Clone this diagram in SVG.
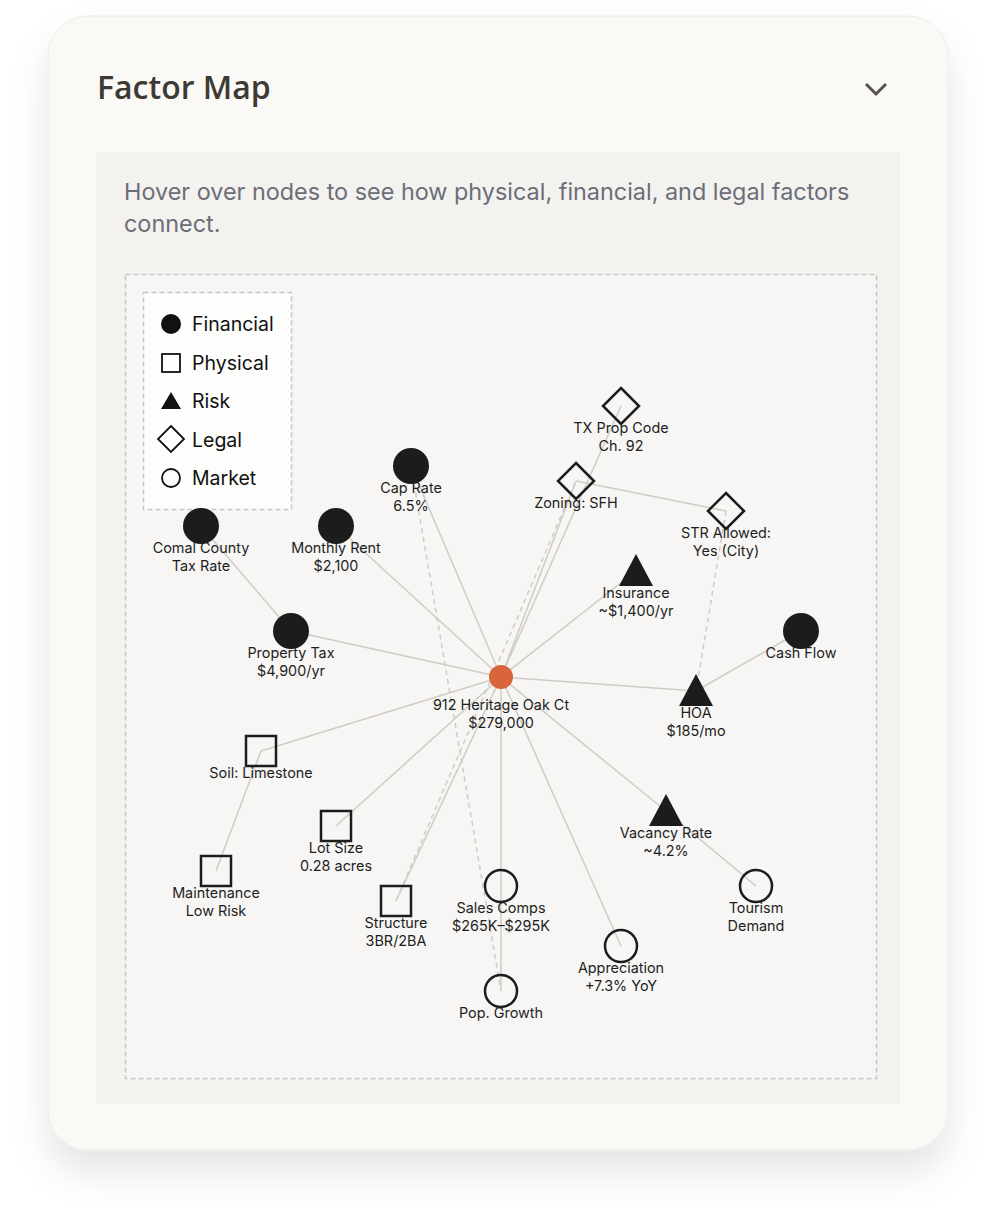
<svg xmlns="http://www.w3.org/2000/svg" width="996" height="1232" viewBox="0 0 996 1232">
<defs>
<filter id="sh" x="-10%" y="-10%" width="120%" height="125%">
<feDropShadow dx="0" dy="22" stdDeviation="18" flood-color="#000" flood-opacity="0.10"/>
</filter>
</defs>
<style>
.lbl{font-family:Inter,"Liberation Sans",sans-serif;font-size:14.4px;fill:#1e1e1e;text-anchor:middle}
.leg{font-family:Inter,"Liberation Sans",sans-serif;font-size:19.5px;fill:#111}
.e{stroke:#cfccc6;stroke-width:1.5;fill:none}
.d{stroke:#cfccc6;stroke-width:1.5;fill:none;stroke-dasharray:5 4}
.fin{fill:#1c1c1c}
.ol{fill:none;stroke:#1c1c1c;stroke-width:2.5}
</style>
<rect width="996" height="1232" fill="#ffffff"/>
<rect x="48" y="16" width="900" height="1134" rx="40" fill="#FAF9F6" stroke="#ecebe8" stroke-width="1" filter="url(#sh)"/>
<text x="97" y="99" font-family="'Open Sans',sans-serif" font-size="32" font-weight="600" fill="#3d3a35">Factor Map</text>
<polyline points="866,84 876,94 886,84" fill="none" stroke="#55514c" stroke-width="3"/>
<rect x="96" y="152" width="804" height="952" fill="#F3F2EF"/>
<text x="124" y="200" font-family="Inter,'Liberation Sans',sans-serif" font-size="23.4" fill="#6b6e78">Hover over nodes to see how physical, financial, and legal factors</text>
<text x="124" y="232" font-family="Inter,'Liberation Sans',sans-serif" font-size="23.4" fill="#6b6e78">connect.</text>
<rect x="125.5" y="274.5" width="751" height="804" fill="#F7F6F4" stroke="#c6c6c6" stroke-width="1.5" stroke-dasharray="5 3"/>

<g id="connectors">
<line class="e" x1="501" y1="677" x2="411" y2="466"/>
<line class="e" x1="501" y1="677" x2="336" y2="526"/>
<line class="e" x1="501" y1="677" x2="291" y2="631"/>
<line class="e" x1="201" y1="526" x2="291" y2="631"/>
<line class="e" x1="501" y1="677" x2="576" y2="481"/>
<line class="e" x1="501" y1="677" x2="621" y2="406"/>
<line class="e" x1="576" y1="481" x2="726" y2="511"/>
<line class="d" x1="726" y1="511" x2="696" y2="691"/>
<line class="e" x1="501" y1="677" x2="636" y2="571"/>
<line class="e" x1="501" y1="677" x2="696" y2="691"/>
<line class="e" x1="801" y1="631" x2="696" y2="691"/>
<line class="e" x1="501" y1="677" x2="261" y2="751"/>
<line class="e" x1="261" y1="751" x2="216" y2="871"/>
<line class="e" x1="501" y1="677" x2="336" y2="826"/>
<line class="e" x1="501" y1="677" x2="396" y2="901"/>
<line class="d" x1="396" y1="901" x2="576" y2="481"/>
<line class="e" x1="501" y1="677" x2="501" y2="886"/>
<line class="e" x1="501" y1="886" x2="501" y2="991"/>
<line class="d" x1="411" y1="466" x2="501" y2="991"/>
<line class="e" x1="501" y1="677" x2="621" y2="946"/>
<line class="e" x1="501" y1="677" x2="666" y2="811"/>
<line class="e" x1="666" y1="811" x2="756" y2="886"/>
</g>

<g id="legend">
<rect x="143.5" y="292.5" width="148" height="217" fill="#fdfdfc" stroke="#c6c6c6" stroke-width="1.5" stroke-dasharray="5 3"/>
<circle cx="171" cy="324" r="10" fill="#111"/>
<text class="leg" x="192" y="331">Financial</text>
<rect x="162" y="354" width="18" height="18" fill="none" stroke="#111" stroke-width="1.8"/>
<text class="leg" x="192" y="370">Physical</text>
<polygon points="171,392 181,409 161,409" fill="#111"/>
<text class="leg" x="192" y="408">Risk</text>
<polygon points="171,426 184,439 171,452 158,439" fill="none" stroke="#111" stroke-width="1.8"/>
<text class="leg" x="192" y="447">Legal</text>
<circle cx="171" cy="478" r="9" fill="none" stroke="#111" stroke-width="1.8"/>
<text class="leg" x="192" y="485">Market</text>
</g>

<g id="node-center">
<circle cx="501" cy="677" r="12" fill="#D9653B"/>
<text class="lbl" x="501" y="710">912 Heritage Oak Ct</text>
<text class="lbl" x="501" y="728">$279,000</text>
</g>
<g id="node-caprate">
<circle class="fin" cx="411" cy="466" r="18"/>
<text class="lbl" x="411" y="493">Cap Rate</text>
<text class="lbl" x="411" y="511">6.5%</text>
</g>
<g id="node-comal">
<circle class="fin" cx="201" cy="526" r="18"/>
<text class="lbl" x="201" y="553">Comal County</text>
<text class="lbl" x="201" y="571">Tax Rate</text>
</g>
<g id="node-rent">
<circle class="fin" cx="336" cy="526" r="18"/>
<text class="lbl" x="336" y="553">Monthly Rent</text>
<text class="lbl" x="336" y="571">$2,100</text>
</g>
<g id="node-proptax">
<circle class="fin" cx="291" cy="631" r="18"/>
<text class="lbl" x="291" y="658">Property Tax</text>
<text class="lbl" x="291" y="676">$4,900/yr</text>
</g>
<g id="node-cashflow">
<circle class="fin" cx="801" cy="631" r="18"/>
<text class="lbl" x="801" y="658">Cash Flow</text>
</g>
<g id="node-txcode">
<polygon class="ol" points="621,388 639,406 621,424 603,406"/>
<text class="lbl" x="621" y="433">TX Prop Code</text>
<text class="lbl" x="621" y="451">Ch. 92</text>
</g>
<g id="node-zoning">
<polygon class="ol" points="576,463 594,481 576,499 558,481"/>
<text class="lbl" x="576" y="508">Zoning: SFH</text>
</g>
<g id="node-str">
<polygon class="ol" points="726,493 744,511 726,529 708,511"/>
<text class="lbl" x="726" y="538">STR Allowed:</text>
<text class="lbl" x="726" y="556">Yes (City)</text>
</g>
<g id="node-insurance">
<polygon class="fin" points="636,554 653,586 619,586"/>
<text class="lbl" x="636" y="598">Insurance</text>
<text class="lbl" x="636" y="616">~$1,400/yr</text>
</g>
<g id="node-hoa">
<polygon class="fin" points="696,674 713,706 679,706"/>
<text class="lbl" x="696" y="718">HOA</text>
<text class="lbl" x="696" y="736">$185/mo</text>
</g>
<g id="node-vacancy">
<polygon class="fin" points="666,794 683,826 649,826"/>
<text class="lbl" x="666" y="838">Vacancy Rate</text>
<text class="lbl" x="666" y="856">~4.2%</text>
</g>
<g id="node-soil">
<rect class="ol" x="246" y="736" width="30" height="30"/>
<text class="lbl" x="261" y="778">Soil: Limestone</text>
</g>
<g id="node-lotsize">
<rect class="ol" x="321" y="811" width="30" height="30"/>
<text class="lbl" x="336" y="853">Lot Size</text>
<text class="lbl" x="336" y="871">0.28 acres</text>
</g>
<g id="node-maintenance">
<rect class="ol" x="201" y="856" width="30" height="30"/>
<text class="lbl" x="216" y="898">Maintenance</text>
<text class="lbl" x="216" y="916">Low Risk</text>
</g>
<g id="node-structure">
<rect class="ol" x="381" y="886" width="30" height="30"/>
<text class="lbl" x="396" y="928">Structure</text>
<text class="lbl" x="396" y="946">3BR/2BA</text>
</g>
<g id="node-salescomps">
<circle class="ol" cx="501" cy="886" r="16"/>
<text class="lbl" x="501" y="913">Sales Comps</text>
<text class="lbl" x="501" y="931">$265K–$295K</text>
</g>
<g id="node-appreciation">
<circle class="ol" cx="621" cy="946" r="16"/>
<text class="lbl" x="621" y="973">Appreciation</text>
<text class="lbl" x="621" y="991">+7.3% YoY</text>
</g>
<g id="node-popgrowth">
<circle class="ol" cx="501" cy="991" r="16"/>
<text class="lbl" x="501" y="1018">Pop. Growth</text>
</g>
<g id="node-tourism">
<circle class="ol" cx="756" cy="886" r="16"/>
<text class="lbl" x="756" y="913">Tourism</text>
<text class="lbl" x="756" y="931">Demand</text>
</g>
</svg>
